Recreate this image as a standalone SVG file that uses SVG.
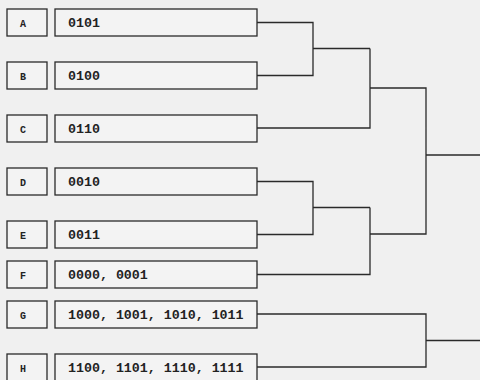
<svg xmlns="http://www.w3.org/2000/svg" width="480" height="380" viewBox="0 0 480 380">
<style>
.bg{fill:#f0f0f0}
.box{fill:#f3f3f3;stroke:#2a2a2a;stroke-width:1.3}
.lbl{font-family:"Liberation Mono",monospace;font-weight:bold;font-size:10px;fill:#222}
.val{font-family:"Liberation Mono",monospace;font-weight:bold;font-size:13.3px;fill:#222}
.con{fill:none;stroke:#2a2a2a;stroke-width:1.3}
</style>
<rect class="bg" x="0" y="0" width="480" height="380"/>
<g id="node-A"><rect class="box" x="7" y="9" width="40" height="27"/><rect class="box" x="55" y="9" width="202" height="27"/><text class="lbl" x="20" y="26.5">A</text><text class="val" x="68" y="26.5">0101</text></g>
<g id="node-B"><rect class="box" x="7" y="62" width="40" height="27"/><rect class="box" x="55" y="62" width="202" height="27"/><text class="lbl" x="20" y="79.5">B</text><text class="val" x="68" y="79.5">0100</text></g>
<g id="node-C"><rect class="box" x="7" y="115" width="40" height="27"/><rect class="box" x="55" y="115" width="202" height="27"/><text class="lbl" x="20" y="132.5">C</text><text class="val" x="68" y="132.5">0110</text></g>
<g id="node-D"><rect class="box" x="7" y="168" width="40" height="27"/><rect class="box" x="55" y="168" width="202" height="27"/><text class="lbl" x="20" y="185.5">D</text><text class="val" x="68" y="185.5">0010</text></g>
<g id="node-E"><rect class="box" x="7" y="221" width="40" height="27"/><rect class="box" x="55" y="221" width="202" height="27"/><text class="lbl" x="20" y="238.5">E</text><text class="val" x="68" y="238.5">0011</text></g>
<g id="node-F"><rect class="box" x="7" y="261" width="40" height="27"/><rect class="box" x="55" y="261" width="202" height="27"/><text class="lbl" x="20" y="278.5">F</text><text class="val" x="68" y="278.5">0000, 0001</text></g>
<g id="node-G"><rect class="box" x="7" y="301" width="40" height="27"/><rect class="box" x="55" y="301" width="202" height="27"/><text class="lbl" x="20" y="318.5">G</text><text class="val" x="68" y="318.5">1000, 1001, 1010, 1011</text></g>
<g id="node-H"><rect class="box" x="7" y="354" width="40" height="27"/><rect class="box" x="55" y="354" width="202" height="27"/><text class="lbl" x="20" y="371.5">H</text><text class="val" x="68" y="371.5">1100, 1101, 1110, 1111</text></g>
<g id="connectors">
<path class="con" d="M257 22.5H313V75.5H257M313 48.5H370M257 128H370V48.5M370 88H426V234H370"/>
<path class="con" d="M257 181.5H313V234.5H257M313 207.5H370M257 274.5H370V207.5"/>
<path class="con" d="M426 155H480"/>
<path class="con" d="M257 314H426V367H257M426 340.5H480"/>
</g>
</svg>
